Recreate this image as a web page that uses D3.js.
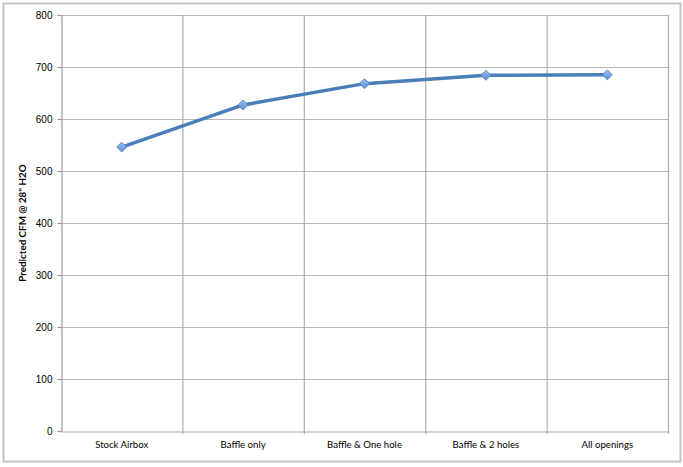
<!DOCTYPE html>
<html>
<head>
<meta charset="utf-8">
<script src="https://cdn.jsdelivr.net/npm/d3@7"></script>
<style>
  body { margin: 0; background: #fff; }
</style>
</head>
<body>
<div class="chart"></div>
<script>
const categories = ['Stock Airbox', 'Baffle only', 'Baffle & One hole', 'Baffle & 2 holes', 'All openings'];
const cfmValues = [546, 627, 668, 684, 685];
const yTicks = [0, 100, 200, 300, 400, 500, 600, 700, 800];
const yLabel = 'Predicted CFM @ 28" H2O';

const w = 683;
const h = 467;
const padLeft = 61, padRight = 668, padTop = 15, padBottom = 431;

const svg = d3.select('div.chart')
  .append('svg')
  .attr('width', w)
  .attr('height', h);

// outer frame
svg.append('rect')
  .attr('x', 3.5).attr('y', 3.5)
  .attr('width', 677).attr('height', 458)
  .attr('fill', 'white')
  .attr('stroke', '#c4c4c4')
  .attr('stroke-width', 2);

const xScale = d3.scaleBand()
  .domain(categories)
  .range([padLeft, padRight]);

const yScale = d3.scaleLinear()
  .domain([0, 800])
  .range([padBottom, padTop]);

// horizontal gridlines
svg.append('g')
  .selectAll('line')
  .data(yTicks.filter(d => d > 0))
  .enter()
  .append('line')
  .attr('x1', padLeft).attr('x2', padRight)
  .attr('y1', d => yScale(d) + 0.5).attr('y2', d => yScale(d) + 0.5)
  .attr('stroke', '#b8b8b8')
  .attr('stroke-width', 1.2);

// vertical gridlines at category boundaries (and right edge)
const bounds = categories.slice(1).map(c => xScale(c)).concat([padRight]);
svg.append('g')
  .selectAll('line')
  .data(bounds)
  .enter()
  .append('line')
  .attr('x1', d => d + 0.5).attr('x2', d => d + 0.5)
  .attr('y1', padTop).attr('y2', padBottom + 3)
  .attr('stroke', '#acacac')
  .attr('stroke-width', 1.2);

// y axis
const yAxis = d3.axisLeft(yScale)
  .tickValues(yTicks)
  .tickSize(4)
  .tickPadding(5);

const gy = svg.append('g')
  .attr('transform', 'translate(' + (padLeft + 0.5) + ',0)')
  .call(yAxis);
gy.select('.domain').attr('stroke', '#999').attr('stroke-width', 1.2);
gy.selectAll('.tick line').attr('stroke', '#999').attr('stroke-width', 1.2);
gy.selectAll('.tick text')
  .attr('fill', '#000')
  .attr('font-family', '"Liberation Sans", Arial, sans-serif')
  .attr('font-size', 10);

// x axis
const xAxis = d3.axisBottom(xScale)
  .tickSize(0)
  .tickPadding(10);

const gx = svg.append('g')
  .attr('transform', 'translate(0,' + (padBottom + 0.5) + ')')
  .call(xAxis);
gx.select('.domain').attr('stroke', '#aaa').attr('stroke-width', 1.2);
gx.selectAll('.tick text')
  .attr('fill', '#000')
  .attr('font-family', 'Lato, "Open Sans", sans-serif')
  .attr('font-size', 9.6);

// y axis label
svg.append('text')
  .text(yLabel)
  .attr('transform', 'translate(26,' + ((padTop + padBottom) / 2) + ') rotate(-90)')
  .attr('text-anchor', 'middle')
  .attr('font-family', 'Lato, "Open Sans", sans-serif')
  .attr('font-weight', 'bold')
  .attr('font-size', 9.8)
  .attr('fill', '#000');

// series line
const pts = categories.map((c, i) => [xScale(c) + xScale.bandwidth() / 2, yScale(cfmValues[i])]);

svg.append('path')
  .datum(pts)
  .attr('d', d3.line())
  .attr('fill', 'none')
  .attr('stroke', '#4a7ebb')
  .attr('stroke-width', 3.5)
  .attr('stroke-linejoin', 'round');

// diamond markers
const defs = svg.append('defs');
const grad = defs.append('linearGradient')
  .attr('id', 'mk')
  .attr('x1', '0').attr('y1', '0').attr('x2', '0').attr('y2', '1');
grad.append('stop').attr('offset', '0%').attr('stop-color', '#9dbdf0');
grad.append('stop').attr('offset', '100%').attr('stop-color', '#5f8fd6');

svg.append('g')
  .selectAll('path')
  .data(pts)
  .enter()
  .append('path')
  .attr('d', d3.symbol().type(d3.symbolDiamond2).size(64))
  .attr('transform', d => 'translate(' + d[0] + ',' + d[1] + ')')
  .attr('fill', 'url(#mk)')
  .attr('stroke', '#4a7ebb')
  .attr('stroke-width', 0.8);
</script>
</body>
</html>
